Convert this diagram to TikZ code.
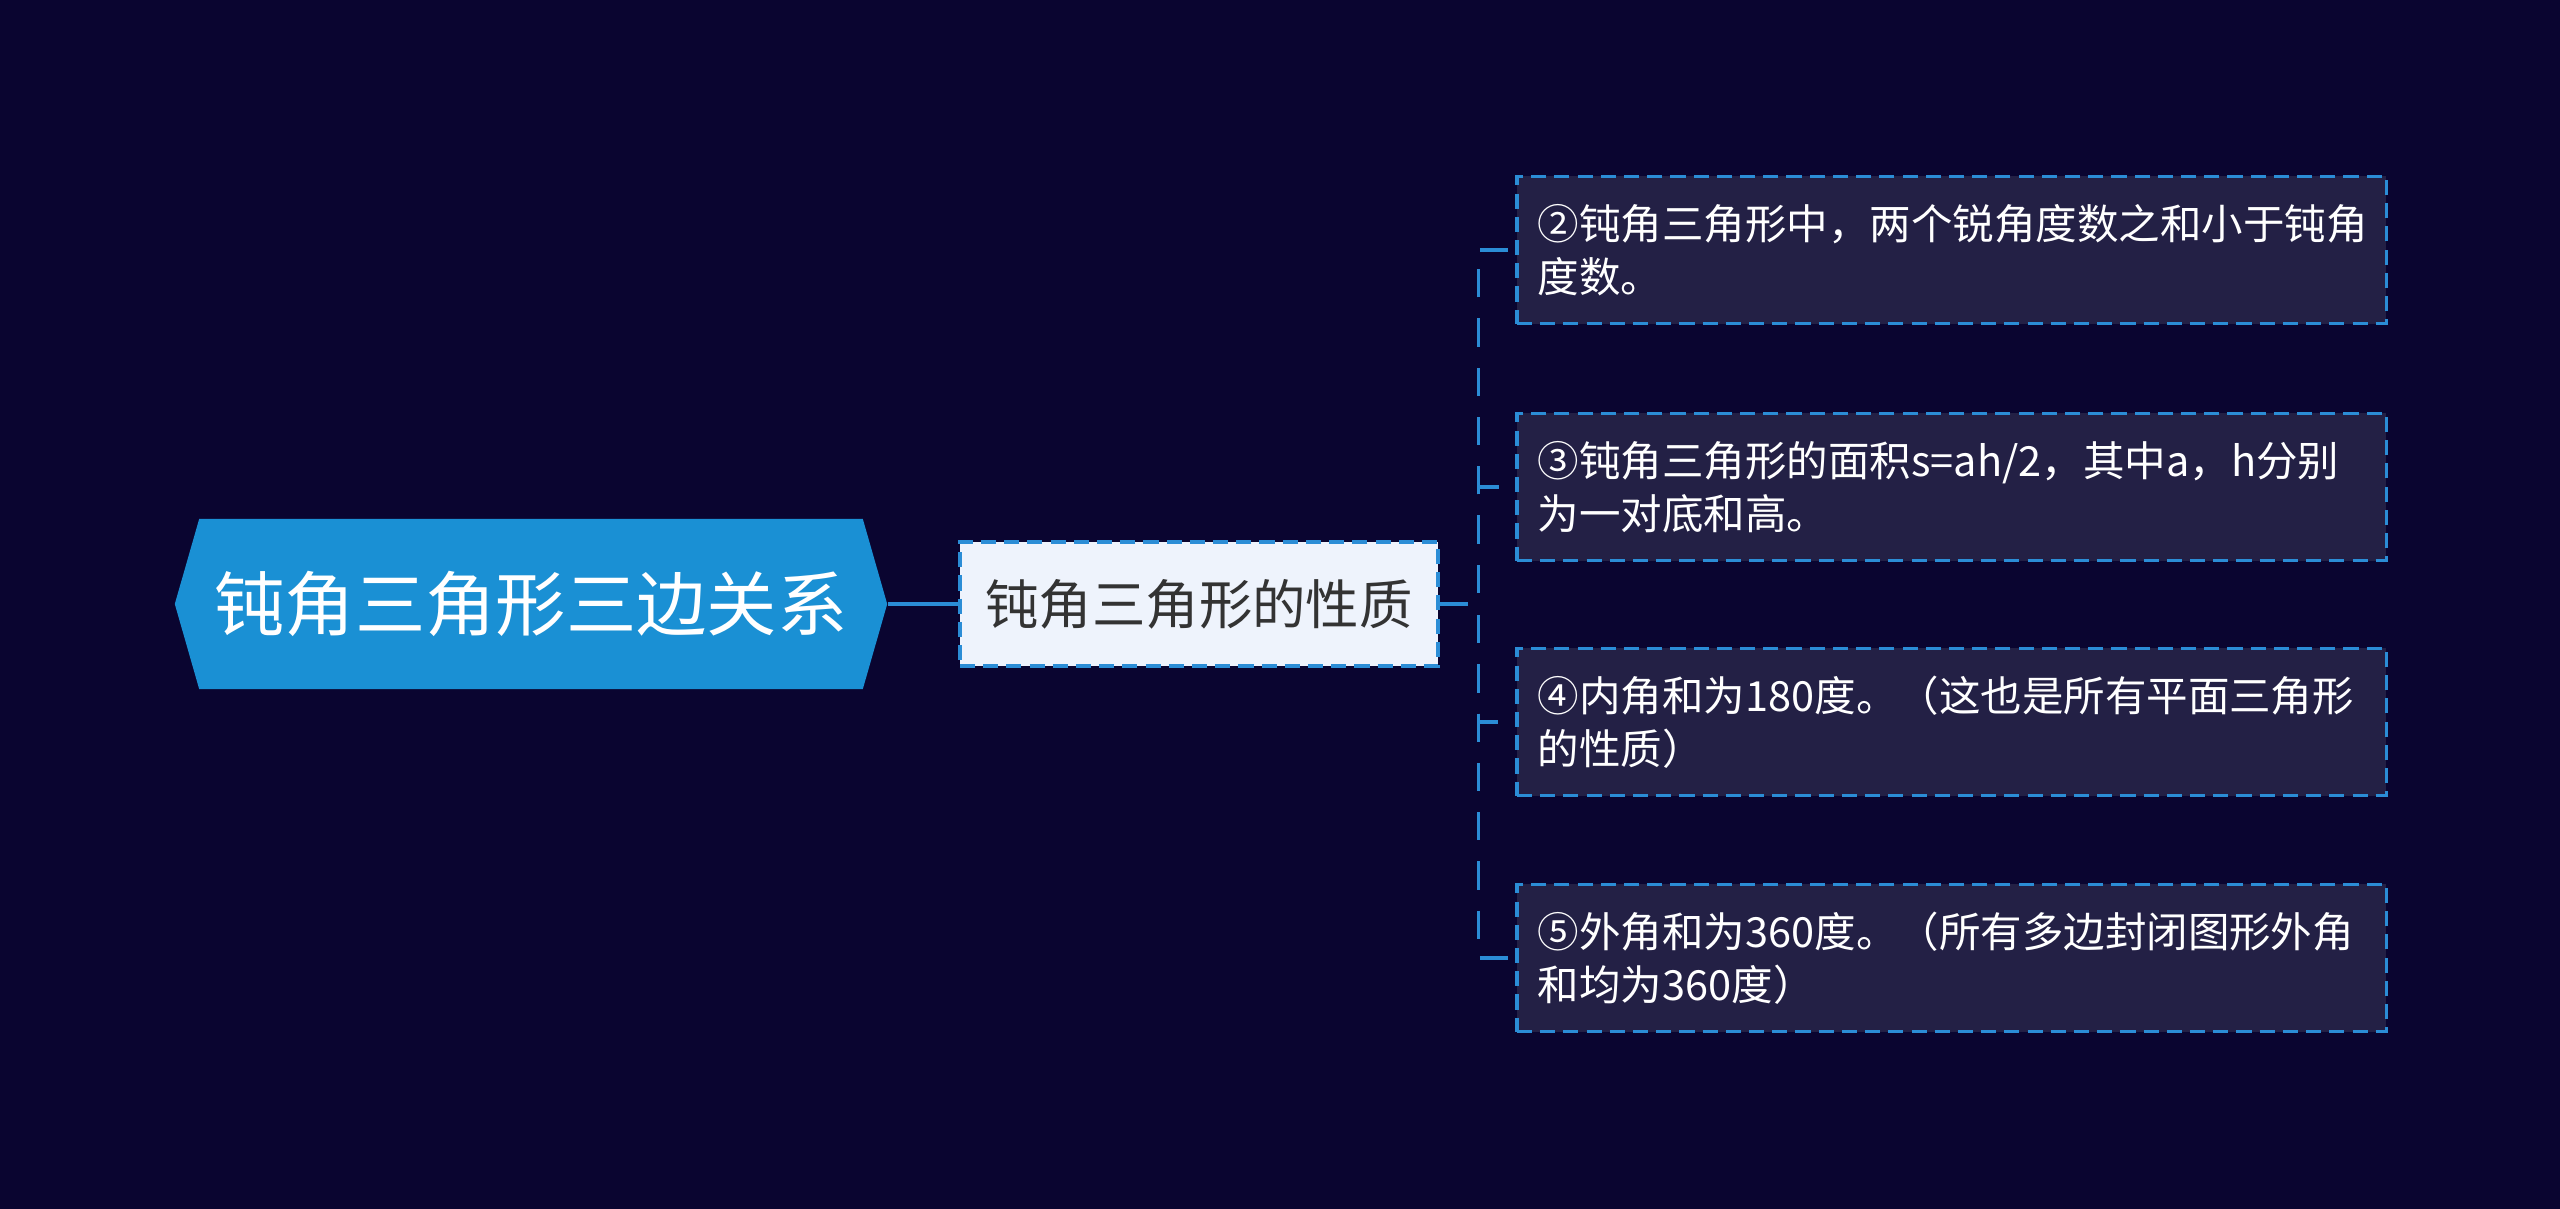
\documentclass[tikz,border=0pt]{standalone}
\usepackage{fontspec}
\newfontfamily\cjk{Noto Sans CJK SC}
\usetikzlibrary{shapes.symbols}

\definecolor{bgnavy}{HTML}{0A0530}
\definecolor{rootblue}{HTML}{1A90D4}
\definecolor{edgeblue}{HTML}{2B8DD6}
\definecolor{subfill}{HTML}{EEF3FC}
\definecolor{leaffill}{HTML}{232045}

\tikzset{
  rootnode/.style={shape=signal, signal to=west and east, signal pointer angle=148,
    fill=rootblue, text=white, minimum width=7.12cm, minimum height=1.7cm, inner sep=0pt,
    font=\cjk\fontsize{20}{24}\selectfont},
  subnode/.style={rectangle, fill=subfill, draw=edgeblue, line width=1.1pt,
    dash pattern=on 4.3pt off 2.3pt, text=black!80, minimum width=4.78cm,
    minimum height=1.24cm, inner sep=0pt, font=\cjk\fontsize{15.2}{18}\selectfont},
  leafnode/.style={rectangle, fill=leaffill, draw=edgeblue, line width=1.1pt,
    dash pattern=on 4.3pt off 2.3pt, text=white, minimum width=8.69cm,
    minimum height=1.47cm, text width=8.27cm, align=left, inner xsep=0.21cm,
    anchor=west, font=\cjk\fontsize{11.8}{15}\selectfont},
  link/.style={draw=edgeblue, line width=1.1pt},
  branch/.style={draw=edgeblue, line width=0.9pt, dash pattern=on 8pt off 6pt},
}

\begin{document}
\begin{tikzpicture}[x=0.01cm, y=-0.01cm]
    % background
    \fill[bgnavy] (0,0) rectangle (2560,1209);
    \useasboundingbox (0,0) rectangle (2560,1209);

    % root and first level
    \node[rootnode] (root) at (531,604) {钝角三角形三边关系};
    \node[subnode] (props) at (1199,604) {钝角三角形的性质};

    % leaves
    \node[leafnode] (leafa) at (1515,250) {②钝角三角形中，两个锐角度数之和小于钝角\\度数。};
    \node[leafnode] (leafb) at (1515,487) {③钝角三角形的面积s=ah/2，其中a，h分别\\为一对底和高。};
    \node[leafnode] (leafc) at (1515,722) {④内角和为180度。（这也是所有平面三角形\\的性质）};
    \node[leafnode] (leafd) at (1515,958) {⑤外角和为360度。（所有多边封闭图形外角\\和均为360度）};

    % connectors
    \draw[link] (root.east) -- (props.west);
    \foreach \leaf in {leafa,leafb,leafc,leafd}
        \draw[branch] (props.east) -- ++(38,0) |- (\leaf.west);

\end{tikzpicture}
\end{document}
